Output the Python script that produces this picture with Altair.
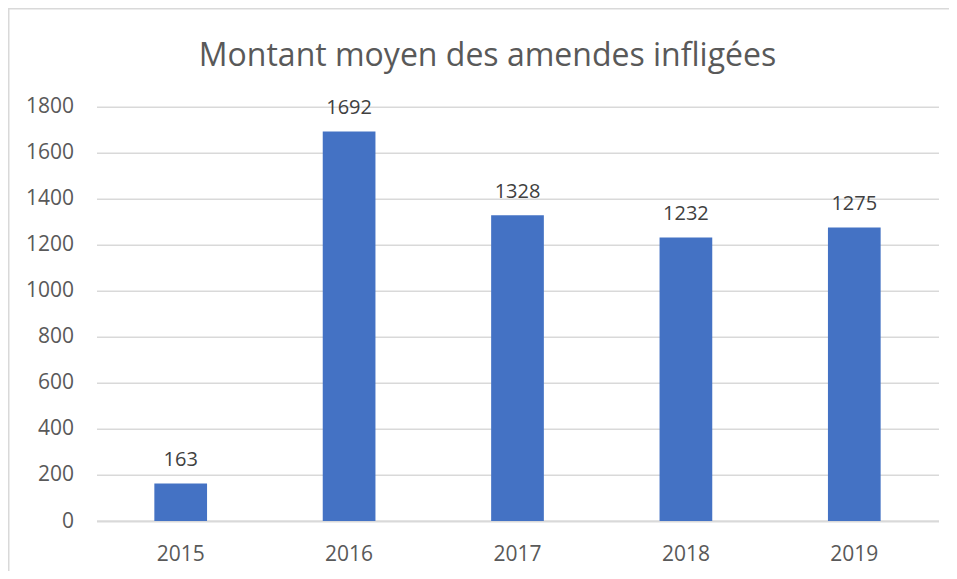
import altair as alt
import pandas as pd

years = ["2015", "2016", "2017", "2018", "2019"]
values = [163, 1692, 1328, 1232, 1275]
y_ticks = [0, 200, 400, 600, 800, 1000, 1200, 1400, 1600, 1800]
title_text = "Montant moyen des amendes infligées"

df = pd.DataFrame({"year": years, "value": values})

FONT = "Open Sans"
W, H = 842, 414.3

base = alt.Chart(df)

x_enc = alt.X(
    "year:N",
    title="",
    sort=years,
    scale=alt.Scale(paddingInner=0.687, paddingOuter=0.3435),
    axis=alt.Axis(
        labelAngle=0, labelFont=FONT, labelFontSize=21, labelColor="#595959",
        ticks=False, tickSize=0, labelPadding=22,
        domain=True, domainColor="#d9d9d9", domainWidth=2,
    ),
)
y_enc = alt.Y(
    "value:Q",
    title="",
    scale=alt.Scale(domain=[0, 1800], nice=False),
    axis=alt.Axis(
        values=y_ticks, format="d", labelFont=FONT, labelFontSize=21, labelColor="#595959",
        ticks=False, tickSize=0, labelPadding=23, domain=False,
        grid=True, gridColor="#d9d9d9", gridWidth=1.5,
    ),
)

bars = base.mark_bar(color="#4472C4").encode(x=x_enc, y=y_enc)

labels = base.mark_text(
    font=FONT, fontSize=20, color="#404040", baseline="alphabetic", dy=-17.5
).encode(x=alt.X("year:N", sort=years), y="value:Q", text="value:Q")

border = alt.Chart(pd.DataFrame({"a": [0]})).mark_rect(
    fill="transparent", stroke="#d9d9d9", strokeWidth=1.5
).encode(
    x=alt.value(-87.75), x2=alt.value(1500),
    y=alt.value(-97.95), y2=alt.value(1500),
)

chart = alt.layer(border, bars, labels).properties(
    width=W,
    height=H,
    padding={"left": 88.5, "top": 98.7, "right": 10.5, "bottom": 50},
    autosize=alt.AutoSizeParams(type="none"),
    title=alt.TitleParams(
        text=title_text, font=FONT, fontSize=32, fontWeight="normal",
        color="#595959", anchor="middle", dx=-30, offset=-90,
        baseline="alphabetic",
    ),
).configure_view(strokeWidth=0)

chart.save("out.html", embed_options={"renderer": "svg", "actions": False})
